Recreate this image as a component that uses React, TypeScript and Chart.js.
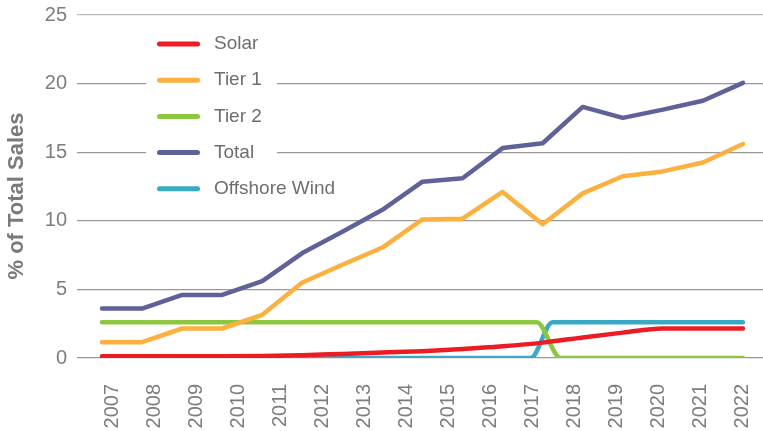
import React, { useEffect, useRef } from 'react';
import { Chart, registerables } from 'chart.js';

Chart.register(...registerables);

// ---- data ----
const yearLabels = ['2007', '2008', '2009', '2010', '2011', '2012', '2013', '2014', '2015', '2016', '2017', '2018', '2019', '2020', '2021', '2022'];
const pointIndex = [0, 1, 2, 3, 4, 5, 6, 7, 8, 9, 10, 11, 12, 13, 14, 15, 16];
const solar = [0.12, 0.12, 0.12, 0.12, 0.14, 0.2, 0.3, 0.4, 0.5, 0.65, 0.85, 1.12, 1.5, 1.85, 2.15, 2.15, 2.15];
const tier1 = [1.15, 1.15, 2.15, 2.15, 3.15, 5.5, 6.8, 8.05, 10.1, 10.15, 12.1, 9.75, 12.0, 13.25, 13.6, 14.25, 15.6];
const total = [3.6, 3.6, 4.6, 4.6, 5.6, 7.65, 9.2, 10.8, 12.85, 13.1, 15.3, 15.65, 18.3, 17.5, 18.1, 18.75, 20.05];
const tier2X = [0, 10.85, 11.45, 16];
const tier2Y = [2.6, 2.6, 0, 0];
const windX = [5, 10.7, 11.25, 16];
const windY = [0, 0, 2.6, 2.6];
const seriesNames = ['Solar', 'Tier 1', 'Tier 2', 'Total', 'Offshore Wind'];
const seriesColors = ['#ed1c24', '#fbb040', '#8dc63f', '#5e6299', '#3aa9c6'];
const yTicks = [0, 5, 10, 15, 20, 25];
const axisTitle = '% of Total Sales';

const FONT = '"Liberation Sans", Arial, sans-serif';
const TEXT_GRAY = '#7d7d7d';

const legendPlugin = {
  id: 'boxLegend',
  beforeDatasetsDraw(chart: any) {
    const ctx = chart.ctx;
    ctx.save();
    ctx.fillStyle = '#ffffff';
    ctx.fillRect(146, 26, 131, 180);
    chart.data.datasets.forEach((ds: any, i: number) => {
      const y = 44 + i * 36.2;
      ctx.strokeStyle = ds.borderColor;
      ctx.lineWidth = 5;
      ctx.lineCap = 'round';
      ctx.beginPath();
      ctx.moveTo(159.5, y);
      ctx.lineTo(197.5, y);
      ctx.stroke();
      ctx.fillStyle = '#6d6e71';
      ctx.font = '19px ' + FONT;
      ctx.textBaseline = 'middle';
      ctx.textAlign = 'left';
      ctx.fillText(ds.label, 214, y);
    });
    ctx.restore();
  },
};

const titlePlugin = {
  id: 'yTitle',
  afterDraw(chart: any) {
    const ctx = chart.ctx;
    ctx.save();
    ctx.translate(17, 196);
    ctx.rotate(-Math.PI / 2);
    ctx.fillStyle = '#7a7a7a';
    ctx.font = 'bold 22px ' + FONT;
    ctx.textAlign = 'center';
    ctx.textBaseline = 'middle';
    ctx.fillText(axisTitle, 0, 0);
    ctx.restore();
  },
};

export default function App() {
  const ref = useRef<HTMLCanvasElement | null>(null);

  useEffect(() => {
    if (!ref.current) return;
    const common = {
      borderWidth: 4.5,
      pointRadius: 0,
      pointHoverRadius: 0,
      borderCapStyle: 'round',
      borderJoinStyle: 'round',
      fill: false,
    };
    const chart = new Chart(ref.current, {
      type: 'line',
      data: {
        datasets: [
          {
            ...common,
            label: seriesNames[0],
            borderColor: seriesColors[0],
            cubicInterpolationMode: 'monotone',
            data: pointIndex.map((x, i) => ({ x, y: solar[i] })),
          },
          {
            ...common,
            label: seriesNames[1],
            borderColor: seriesColors[1],
            tension: 0,
            data: pointIndex.map((x, i) => ({ x, y: tier1[i] })),
          },
          {
            ...common,
            label: seriesNames[2],
            borderColor: seriesColors[2],
            cubicInterpolationMode: 'monotone',
            data: tier2X.map((x, i) => ({ x, y: tier2Y[i] })),
          },
          {
            ...common,
            label: seriesNames[3],
            borderColor: seriesColors[3],
            tension: 0,
            data: pointIndex.map((x, i) => ({ x, y: total[i] })),
          },
          {
            ...common,
            label: seriesNames[4],
            borderColor: seriesColors[4],
            cubicInterpolationMode: 'monotone',
            data: windX.map((x, i) => ({ x, y: windY[i] })),
          },
        ],
      } as any,
      options: {
        responsive: false,
        animation: false,
        layout: { padding: { top: 15, bottom: 3, left: 0, right: 0 } },
        plugins: {
          legend: { display: false },
          tooltip: { enabled: false },
        },
        scales: {
          x: {
            type: 'linear',
            display: false,
            min: -0.624,
            max: 16.5,
          },
          years: {
            type: 'linear',
            position: 'bottom',
            min: 2006.1667,
            max: 2022.5,
            afterBuildTicks: (s: any) => {
              s.ticks = yearLabels.map((l) => ({ value: Number(l) }));
            },
            afterFit: (s: any) => {
              s.paddingLeft = 0;
              s.paddingRight = 0;
              s.height = 70;
            },
            grid: { display: false, drawTicks: false },
            border: { display: false },
            ticks: {
              autoSkip: false,
              minRotation: 90,
              maxRotation: 90,
              padding: 26,
              color: TEXT_GRAY,
              font: { size: 20, family: FONT },
              callback: (_v: any, i: number) => yearLabels[i],
            },
          },
          y: {
            min: 0,
            max: 25,
            afterBuildTicks: (s: any) => {
              s.ticks = yTicks.map((v) => ({ value: v }));
            },
            afterFit: (s: any) => {
              s.width = 77;
              s.paddingTop = 0;
              s.paddingBottom = 0;
            },
            grid: {
              color: (c: any) => (c.tick && c.tick.value === 25 ? '#bcbcbc' : '#999999'),
              lineWidth: 1.2,
              drawTicks: false,
            },
            border: { display: false },
            ticks: {
              padding: 10,
              color: TEXT_GRAY,
              font: { size: 20, family: FONT },
              callback: (v: any) => String(v),
            },
          },
        },
      } as any,
      plugins: [legendPlugin, titlePlugin],
    });
    return () => chart.destroy();
  }, []);

  return (
    <div style={{ position: 'absolute', left: 0, top: 0, width: 763, height: 431, overflow: 'hidden', background: '#fff' }}>
      <canvas ref={ref} width={763} height={431} style={{ display: 'block' }} />
    </div>
  );
}
